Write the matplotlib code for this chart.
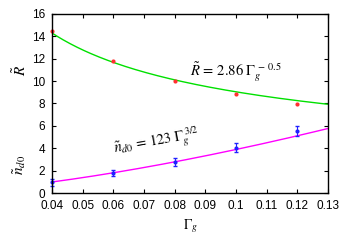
import matplotlib
matplotlib.use("Agg")
import matplotlib.pyplot as plt
import numpy as np

plt.rcParams['font.family'] = ['Liberation Sans', 'DejaVu Sans']
plt.rcParams['mathtext.fontset'] = 'stix'

# data
gam = [0.04, 0.06, 0.08, 0.10, 0.12]
R = [14.5, 11.8, 10.05, 8.85, 7.95]
nd0 = [0.95, 1.8, 2.8, 4.05, 5.55]
nd0_err = [0.3, 0.3, 0.35, 0.4, 0.45]

# fits
R_amp, R_exp = 2.86, -0.5
n_amp, n_exp = 123, 1.5

fig = plt.figure(figsize=(3.5, 2.45), dpi=100)
ax = fig.add_axes([52/350, 52/245, 276/350, 179/245])

g = np.linspace(0.04, 0.13, 200)
ax.plot(g, R_amp * g**R_exp, color='#00e000', lw=1)
ax.plot(g, n_amp * g**n_exp, color='#ff00ff', lw=1)
ax.plot(gam, R, 'o', color='#ff3030', ms=3, mec='none', clip_on=False)
ax.errorbar(gam, nd0, yerr=nd0_err, fmt='o', color='#2020ff', ms=3,
            mec='none', elinewidth=0.8, capsize=1.5, clip_on=False)

ax.set_xlim(0.04, 0.13)
ax.set_ylim(0, 16)
ax.set_xticks(np.arange(0.04, 0.131, 0.01))
ax.set_xticklabels(['0.04', '0.05', '0.06', '0.07', '0.08', '0.09', '0.1',
                    '0.11', '0.12', '0.13'])
ax.set_yticks(range(0, 17, 2))
ax.tick_params(direction='in', top=True, right=True, labelsize=8.5,
               length=3)
ax.tick_params(axis='x', pad=5)
ax.tick_params(axis='y', pad=5)
for s in ax.spines.values():
    s.set_linewidth(1)

ax.set_xlabel(r'$\Gamma_g$', fontsize=10, labelpad=4)
fig.text(20/350, 1 - 70/245, r'$\tilde{R}$', rotation=90, fontsize=11,
         ha='center', va='center')
fig.text(20/350, 1 - 165/245, r'$\tilde{n}_{d0}$', rotation=90, fontsize=11,
         ha='center', va='center')

ax.text(0.085, 10.5, r'$\tilde{R}\,=\,2.86\;\Gamma_g^{\;-\,0.5}$', fontsize=10.5)
ax.text(0.0605, 3.6, r'$\tilde{n}_{d0}\,=\,123\;\Gamma_g^{\;3/2}$',
        fontsize=10.5, rotation=10, rotation_mode='anchor')

fig.savefig('out.png', dpi=100)
